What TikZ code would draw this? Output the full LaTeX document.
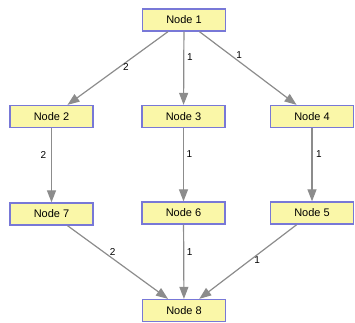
\documentclass[tikz,border=0pt]{standalone}
\usepackage{fontspec}
\setmainfont{Liberation Sans}
\usetikzlibrary{arrows.meta}
\definecolor{boxfill}{RGB}{250,247,168}
\definecolor{boxline}{RGB}{120,120,215}
\definecolor{edgecol}{RGB}{140,140,140}
\tikzset{
  gnode/.style={draw=boxline, fill=boxfill, line width=1.3pt, minimum width=83pt, minimum height=22pt, inner sep=0pt, font=\fontsize{11}{12}\selectfont},
  gedge/.style={draw=edgecol, line width=1.2pt, -{Triangle[length=12pt,width=9pt]}, edgecol},
  elabel/.style={text=black, font=\fontsize{10}{11}\selectfont, inner sep=0pt}
}
\begin{document}
\begin{tikzpicture}[x=1pt,y=-1pt]
\useasboundingbox (0,0) rectangle (355,322);
\node[gnode] (n1) at (184,20) {Node 1};
\node[gnode] (n2) at (51.5,116.5) {Node 2};
\node[gnode] (n3) at (183.5,116.5) {Node 3};
\node[gnode] (n4) at (312,116.5) {Node 4};
\node[gnode] (n7) at (51.5,214) {Node 7};
\node[gnode] (n6) at (183.5,213) {Node 6};
\node[gnode] (n5) at (312,213) {Node 5};
\node[gnode] (n8) at (184,310.5) {Node 8};
\path[gedge] (n1) -- node[elabel, pos=0.42, yshift=-5pt] {2} (n2);
\path[gedge] (n1) -- node[elabel, pos=0.35, xshift=6pt] {1} (n3);
\path[gedge] (n1) -- node[elabel, pos=0.41, yshift=7pt] {1} (n4);
\path[gedge] (n2) -- node[elabel, pos=0.36, xshift=-8pt] {2} (n7);
\path[gedge] (n3) -- node[elabel, pos=0.36, xshift=6pt] {1} (n6);
\path[gedge] (n4) -- node[elabel, pos=0.36, xshift=7pt] {1} (n5);
\path[gedge] (n7) -- node[elabel, pos=0.45, yshift=7pt] {2} (n8);
\path[gedge] (n6) -- node[elabel, pos=0.37, xshift=6pt] {1} (n8);
\path[gedge] (n5) -- node[elabel, pos=0.405, yshift=-5pt] {1} (n8);
\end{tikzpicture}
\end{document}
